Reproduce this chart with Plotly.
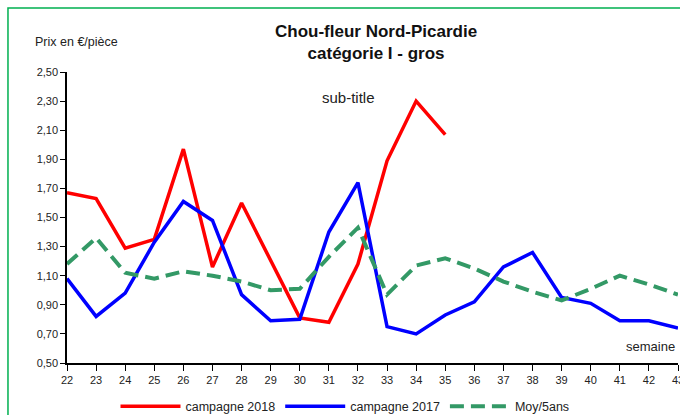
import plotly.graph_objects as go

weeks_2018 = list(range(22, 36))
prix_2018 = [1.67, 1.63, 1.29, 1.35, 1.97, 1.16, 1.60, 1.20, 0.81, 0.78, 1.18, 1.89, 2.30, 2.07]

weeks = list(range(22, 44))
prix_2017 = [1.08, 0.82, 0.98, 1.33, 1.61, 1.48, 0.97, 0.79, 0.80, 1.40, 1.74, 0.75, 0.70, 0.83,
             0.92, 1.16, 1.26, 0.95, 0.91, 0.79, 0.79, 0.74]
moy_5ans = [1.18, 1.36, 1.12, 1.08, 1.13, 1.10, 1.06, 1.00, 1.01, 1.23, 1.43, 0.97, 1.17, 1.22,
            1.15, 1.06, 0.99, 0.93, 1.01, 1.10, 1.04, 0.97]

y_ticks = [0.5, 0.7, 0.9, 1.1, 1.3, 1.5, 1.7, 1.9, 2.1, 2.3, 2.5]
y_labels = ["0,50", "0,70", "0,90", "1,10", "1,30", "1,50", "1,70", "1,90", "2,10", "2,30", "2,50"]

font = "Liberation Sans, Arial, sans-serif"

fig = go.Figure()
fig.add_trace(go.Scatter(x=weeks_2018, y=prix_2018, mode="lines", name="campagne 2018",
                         line=dict(color="#ff0000", width=3.5)))
fig.add_trace(go.Scatter(x=weeks, y=prix_2017, mode="lines", name="campagne 2017",
                         line=dict(color="#0000ff", width=3.5)))
fig.add_trace(go.Scatter(x=weeks, y=moy_5ans, mode="lines", name="Moy/5ans",
                         line=dict(color="#339966", width=4, dash="14px,7px")))

fig.update_layout(
    width=680, height=415,
    margin=dict(l=67, r=2, t=72, b=52),
    paper_bgcolor="white", plot_bgcolor="white",
    font=dict(family=font, size=11, color="#222"),
    showlegend=True,
    legend=dict(orientation="h", x=0.455, xanchor="center", itemwidth=60,
                yref="container", y=0.02, yanchor="middle",
                font=dict(size=12.5, color="#222"), bgcolor="rgba(0,0,0,0)"),
    xaxis=dict(range=[22, 43], tickmode="linear", tick0=22, dtick=1, automargin=False,
               ticklabeloverflow="allow",
               showline=True, linecolor="black", linewidth=1.5,
               ticks="outside", ticklen=6, tickcolor="black",
               showgrid=False, zeroline=False),
    yaxis=dict(range=[0.5, 2.5], tickvals=y_ticks, ticktext=y_labels, automargin=False,
               showline=True, linecolor="black", linewidth=1.5,
               ticks="outside", ticklen=5, tickcolor="black",
               showgrid=False, zeroline=False),
)

fig.add_annotation(text="<b>Chou-fleur Nord-Picardie<br>catégorie I - gros</b>",
                   xref="paper", yref="paper", x=0.506, y=1.1, xanchor="center", yanchor="middle",
                   showarrow=False, font=dict(size=17, color="#111"))
fig.add_annotation(text="Prix en €/pièce", xref="paper", yref="paper", x=-0.055, y=1.103,
                   xanchor="left", yanchor="middle", showarrow=False, font=dict(size=12.5))
fig.add_annotation(text="sub-title", xref="paper", yref="paper", x=0.46, y=0.914,
                   xanchor="center", yanchor="middle", showarrow=False, font=dict(size=15))
fig.add_annotation(text="semaine", xref="paper", yref="paper", x=0.998, y=0.055,
                   xanchor="right", yanchor="middle", showarrow=False, font=dict(size=13))

# green frame around the chart (right and bottom sides fall outside the picture)
fig.add_shape(type="rect", xref="paper", yref="paper", x0=-0.0966, y0=-0.4, x1=1.1, y1=1.22,
              line=dict(color="#00b050", width=1.5), fillcolor="rgba(0,0,0,0)", layer="below")

# drop the default 8px body margin so the 680x415 figure fills the window without scrollbars
fig.write_html("out.html", config={"displayModeBar": False},
               post_script="document.body.style.margin = '0';")
